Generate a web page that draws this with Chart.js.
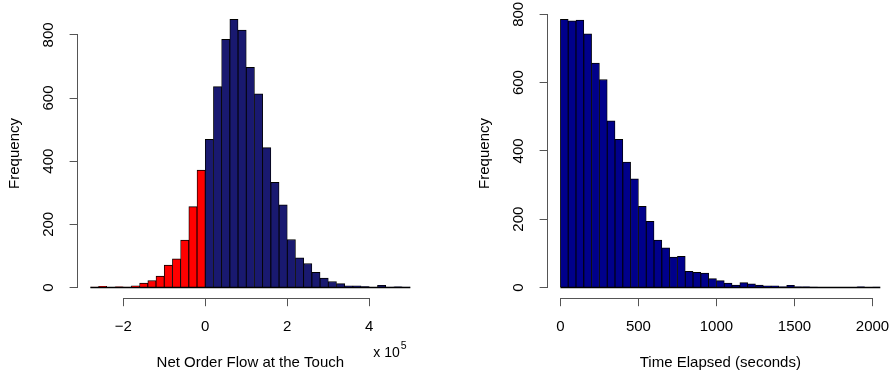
<!DOCTYPE html>
<html>
<head>
<meta charset="utf-8">
<title>Order flow and elapsed time histograms</title>
<script src="https://cdn.jsdelivr.net/npm/chart.js@4/dist/chart.umd.min.js"></script>
<style>
  html, body { margin: 0; padding: 0; background: #ffffff; overflow: hidden; width: 891px; height: 378px; }
  .panel { position: absolute; top: 0; width: 470px; height: 378px; }
  .panel canvas { display: block; }
</style>
</head>
<body>
<div class="panel" style="left:0px"><canvas id="flowChart" width="470" height="378"></canvas></div>
<div class="panel" style="left:470px"><canvas id="elapsedChart" width="470" height="378"></canvas></div>
<script>
// Net order flow at the touch (units of 10^5): bin edges and counts per bin
const flowBinEdges = [
  -2.8, -2.6, -2.4, -2.2, -2.0, -1.8, -1.6, -1.4, -1.2, -1.0,
  -0.8, -0.6, -0.4, -0.2, 0.0, 0.2, 0.4, 0.6, 0.8, 1.0,
  1.2, 1.4, 1.6, 1.8, 2.0, 2.2, 2.4, 2.6, 2.8, 3.0,
  3.2, 3.4, 3.6, 3.8, 4.0, 4.2, 4.4, 4.6, 4.8, 5.0
];
const flowCounts = [
  1, 4, 0, 2, 1, 5, 14, 22, 36, 71,
  91, 150, 256, 372, 469, 636, 786, 849, 815, 697,
  613, 443, 333, 262, 152, 94, 76, 48, 30, 19,
  12, 5, 5, 3, 0, 7, 1, 2, 1
];
const flowTicks = [-2, 0, 2, 4];

// Time elapsed (seconds): bin edges and counts per bin
const elapsedBinEdges = [
  0, 50, 100, 150, 200, 250, 300, 350, 400, 450,
  500, 550, 600, 650, 700, 750, 800, 850, 900, 950,
  1000, 1050, 1100, 1150, 1200, 1250, 1300, 1350, 1400, 1450,
  1500, 1550, 1600, 1650, 1700, 1750, 1800, 1850, 1900, 1950,
  2000, 2050
];
const elapsedCounts = [
  785, 781, 783, 743, 657, 609, 488, 434, 367, 318,
  238, 194, 139, 116, 89, 91, 47, 44, 42, 26,
  20, 13, 7, 14, 11, 7, 5, 5, 2, 6,
  2, 2, 1, 0, 0, 0, 0, 0, 2, 0,
  1
];
const elapsedTicks = [0, 500, 1000, 1500, 2000];

const frequencyTicks = [0, 200, 400, 600, 800];

const FONT = { family: "'Liberation Sans', Arial, Helvetica, sans-serif", size: 15 };
const AXIS_COLOR = '#555555';
const TICK_LEN = 8;

function fmt(v) { return v < 0 ? '\u2212' + Math.abs(v) : String(v); }

function alignPx(p) { return Math.round(p - 0.5) + 0.5; }

// Axis lines that run only between the first and last tick, plus an optional scale note
const axisLinePlugin = {
  id: 'tickSpanAxes',
  afterDraw(chart, args, opts) {
    const ctx = chart.ctx;
    const xs = chart.scales.x, ys = chart.scales.y;
    const area = chart.chartArea;
    ctx.save();
    ctx.strokeStyle = AXIS_COLOR;
    ctx.lineWidth = 1;
    const yLine = alignPx(area.bottom);
    ctx.beginPath();
    ctx.moveTo(alignPx(xs.getPixelForValue(xs.ticks[0].value)), yLine);
    ctx.lineTo(alignPx(xs.getPixelForValue(xs.ticks[xs.ticks.length - 1].value)), yLine);
    ctx.stroke();
    const xLine = alignPx(area.left);
    ctx.beginPath();
    ctx.moveTo(xLine, alignPx(ys.getPixelForValue(ys.ticks[0].value)));
    ctx.lineTo(xLine, alignPx(ys.getPixelForValue(ys.ticks[ys.ticks.length - 1].value)));
    ctx.stroke();

    if (opts && opts.exponent) {
      const lastTick = xs.ticks[xs.ticks.length - 1].value;
      const x0 = xs.getPixelForValue(lastTick) + 4;
      const yMid = area.bottom + 55;
      ctx.fillStyle = '#000';
      ctx.textBaseline = 'middle';
      ctx.textAlign = 'left';
      ctx.font = "14px 'Liberation Sans', Arial, sans-serif";
      const base = 'x 10';
      ctx.fillText(base, x0, yMid);
      const w = ctx.measureText(base).width;
      ctx.font = "10.5px 'Liberation Sans', Arial, sans-serif";
      ctx.fillText(opts.exponent, x0 + w + 1, yMid - 7);
    }
    ctx.restore();
  }
};

function histogram(canvasId, edges, counts, colorFor, xTicks, xTitle, exponent) {
  const centers = counts.map((c, i) => (edges[i] + edges[i + 1]) / 2);
  const points = counts.map((c, i) => ({ x: centers[i], y: c }));
  const lo = edges[0], hi = edges[edges.length - 1];
  const xPad = (hi - lo) * 0.04;
  const yMax = Math.max(...counts);
  const yPad = yMax * 0.04;

  return new Chart(document.getElementById(canvasId), {
    type: 'bar',
    data: {
      datasets: [
        {
          type: 'bar',
          data: points,
          backgroundColor: counts.map((c, i) => colorFor(edges[i], edges[i + 1])),
          borderColor: '#000000',
          borderWidth: { top: 1, left: 0.85, right: 0.85, bottom: 0 },
          borderSkipped: false,
          barPercentage: 1,
          categoryPercentage: 1,
          order: 2
        },
        {
          type: 'line',
          data: [{ x: lo, y: 0 }, { x: hi, y: 0 }],
          borderColor: '#000000',
          borderWidth: 1.6,
          pointRadius: 0,
          fill: false,
          order: 1
        }
      ]
    },
    options: {
      responsive: false,
      animation: false,
      events: [],
      layout: { autoPadding: false, padding: { left: 0, top: 8.7, right: 46.9, bottom: 0 } },
      plugins: {
        legend: { display: false },
        tooltip: { enabled: false },
        tickSpanAxes: { exponent: exponent }
      },
      scales: {
        x: {
          type: 'linear',
          min: lo - xPad,
          max: hi + xPad,
          offset: false,
          afterBuildTicks: (s) => { s.ticks = xTicks.map(v => ({ value: v })); },
          afterFit: (s) => { s.height = 79.8; s.paddingLeft = 0; s.paddingRight = 0; s.paddingTop = 0; s.paddingBottom = 0; },
          grid: { offset: false, drawOnChartArea: false, drawTicks: true, tickLength: TICK_LEN, color: AXIS_COLOR, lineWidth: 1 },
          border: { display: false },
          ticks: { autoSkip: false, maxRotation: 0, minRotation: 0, padding: 11.5, color: '#000', font: FONT, callback: (v) => fmt(v) },
          title: { display: true, text: xTitle, color: '#000', font: FONT, padding: { top: 0, bottom: 5.7 } }
        },
        y: {
          type: 'linear',
          min: -yPad,
          max: yMax + yPad,
          afterBuildTicks: (s) => { s.ticks = frequencyTicks.map(v => ({ value: v })); },
          afterFit: (s) => { s.width = 77.6; s.paddingLeft = 0; s.paddingRight = 0; s.paddingTop = 0; s.paddingBottom = 0; },
          grid: { drawOnChartArea: false, drawTicks: true, tickLength: TICK_LEN, color: AXIS_COLOR, lineWidth: 1 },
          border: { display: false },
          ticks: { autoSkip: false, minRotation: 90, maxRotation: 90, crossAlign: 'center', padding: 8, color: '#000', font: FONT, callback: (v) => fmt(v) },
          title: { display: true, text: 'Frequency', color: '#000', font: FONT, padding: { top: 6, bottom: 0 } }
        }
      }
    },
    plugins: [axisLinePlugin]
  });
}

histogram('flowChart', flowBinEdges, flowCounts,
  (a, b) => (b <= 0 ? '#ff0000' : '#191970'),
  flowTicks, 'Net Order Flow at the Touch', '5');

histogram('elapsedChart', elapsedBinEdges, elapsedCounts,
  () => '#00008b',
  elapsedTicks, 'Time Elapsed (seconds)', null);
</script>
</body>
</html>
